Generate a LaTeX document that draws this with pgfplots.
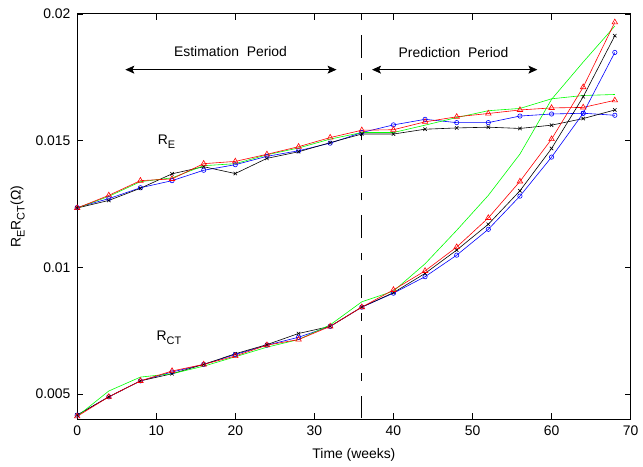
\documentclass[border=0pt]{standalone}
\usepackage{fontspec}
\setmainfont{Liberation Sans}
\usepackage{pgfplots}
\pgfplotsset{compat=1.18}
\usetikzlibrary{arrows.meta}

\newcommand{\sub}[1]{\raisebox{-0.55ex}{\fontsize{11}{11}\selectfont #1}}

\begin{document}
\fontsize{14}{16}\selectfont
\begin{tikzpicture}
\begin{axis}[
    scale only axis,
    width=557.3pt, height=408.3pt,
    xmin=0, xmax=70,
    ymin=0.004, ymax=0.02,
    xtick={0,10,...,70},
    ytick={0.005,0.01,0.015,0.02},
    yticklabels={0.005,0.01,0.015,0.02},
    scaled y ticks=false,
    /pgf/number format/assume math mode=true,
    tick align=inside,
    major tick length=6pt,
    axis line style={line width=0.9pt},
    tick style={line width=0.6pt, black},
    xlabel={Time (weeks)},
    ylabel={R\sub{E}R\sub{CT}(Ω)},
    xlabel style={at={(axis description cs:0.5,0)}, anchor=center, yshift=-36pt},
    ylabel style={at={(axis description cs:0,0.5)}, anchor=center, yshift=60pt},
    xticklabel style={yshift=-2pt},
    yticklabel style={xshift=-2pt},
    clip=false,
    every axis plot/.append style={line width=0.6pt},
]
% R_E
\addplot[blue, mark=o, mark size=2.2pt] coordinates {
(0,0.01236)(4,0.01271)(8,0.01314)(12,0.01342)(16,0.01383)(20,0.01405)(24,0.01438)(28,0.0146)(32,0.0149)(36,0.01532)(40,0.01562)(44,0.01584)(48,0.01571)(52,0.01571)(56,0.01597)(60,0.01605)(64,0.01608)(68,0.016)};
\addplot[black, mark=x, mark size=2.4pt] coordinates {
(0,0.01234)(4,0.01264)(8,0.01312)(12,0.01369)(16,0.01397)(20,0.0137)(24,0.0143)(28,0.01456)(32,0.01492)(36,0.01526)(40,0.01526)(44,0.01545)(48,0.0155)(52,0.01553)(56,0.01548)(60,0.01561)(64,0.01587)(68,0.01621)};
\addplot[green] coordinates {
(0,0.01234)(4,0.0128)(8,0.01338)(12,0.01353)(16,0.01401)(20,0.01409)(24,0.01444)(28,0.01471)(32,0.01506)(36,0.01532)(40,0.01532)(44,0.01561)(48,0.01591)(52,0.01618)(56,0.01627)(60,0.01665)(64,0.01678)(68,0.01682)};
\addplot[red, mark=triangle, mark size=3.2pt] coordinates {
(0,0.01234)(4,0.01284)(8,0.01342)(12,0.01349)(16,0.01409)(20,0.01418)(24,0.01446)(28,0.01476)(32,0.01512)(36,0.01541)(40,0.01543)(44,0.01574)(48,0.01594)(52,0.01607)(56,0.01621)(60,0.01629)(64,0.01631)(68,0.01659)};
% R_CT
\addplot[blue, mark=o, mark size=2.2pt] coordinates {
(0,0.00417)(4,0.00489)(8,0.00552)(12,0.00587)(16,0.00617)(20,0.00656)(24,0.00693)(28,0.00724)(32,0.00767)(36,0.00843)(40,0.00898)(44,0.00963)(48,0.01048)(52,0.0115)(56,0.01281)(60,0.01435)(64,0.01608)(68,0.01848)};
\addplot[black, mark=x, mark size=2.4pt] coordinates {
(0,0.00417)(4,0.00489)(8,0.00552)(12,0.0058)(16,0.00617)(20,0.00659)(24,0.00695)(28,0.00739)(32,0.00767)(36,0.00843)(40,0.009)(44,0.00976)(48,0.01068)(52,0.0117)(56,0.01302)(60,0.01469)(64,0.01673)(68,0.01914)};
\addplot[green] coordinates {
(0,0.00412)(4,0.00512)(8,0.00567)(12,0.0058)(16,0.0061)(20,0.00647)(24,0.00685)(28,0.00715)(32,0.00773)(36,0.00864)(40,0.00906)(44,0.01014)(48,0.01146)(52,0.01284)(56,0.01447)(60,0.01663)(64,0.0181)(68,0.01952)};
\addplot[red, mark=triangle, mark size=3.2pt] coordinates {
(0,0.00412)(4,0.00489)(8,0.00552)(12,0.00591)(16,0.00617)(20,0.0065)(24,0.00693)(28,0.00715)(32,0.00767)(36,0.00843)(40,0.00911)(44,0.00986)(48,0.0108)(52,0.01195)(56,0.01339)(60,0.01506)(64,0.01711)(68,0.01967)};
% boundary between periods
\addplot[black, line width=0.7pt, dash pattern=on 23pt off 15pt on 7.5pt off 15pt, dash phase=-1pt] coordinates {(36,0.004) (36,0.02)};

\node at (axis cs:11.3,0.01494) {R\sub{E}};
\node at (axis cs:11.6,0.00722) {R\sub{CT}};
\node at (axis cs:19.4,0.01851) {Estimation~~Period};
\node at (axis cs:47.6,0.01847) {Prediction~~Period};
\draw[black, line width=0.7pt, {Stealth[length=9pt,width=8pt,inset=2pt]}-{Stealth[length=9pt,width=8pt,inset=2pt]}]
    (axis cs:6.1,0.0178) -- (axis cs:32.8,0.0178);
\draw[black, line width=0.7pt, {Stealth[length=9pt,width=8pt,inset=2pt]}-{Stealth[length=9pt,width=8pt,inset=2pt]}]
    (axis cs:37.3,0.0178) -- (axis cs:58.2,0.0178);
\end{axis}
\path ([shift={(-77.7pt,-47.7pt)}]current axis.south west) rectangle ([shift={(8pt,14pt)}]current axis.north east);
\end{tikzpicture}
\end{document}
